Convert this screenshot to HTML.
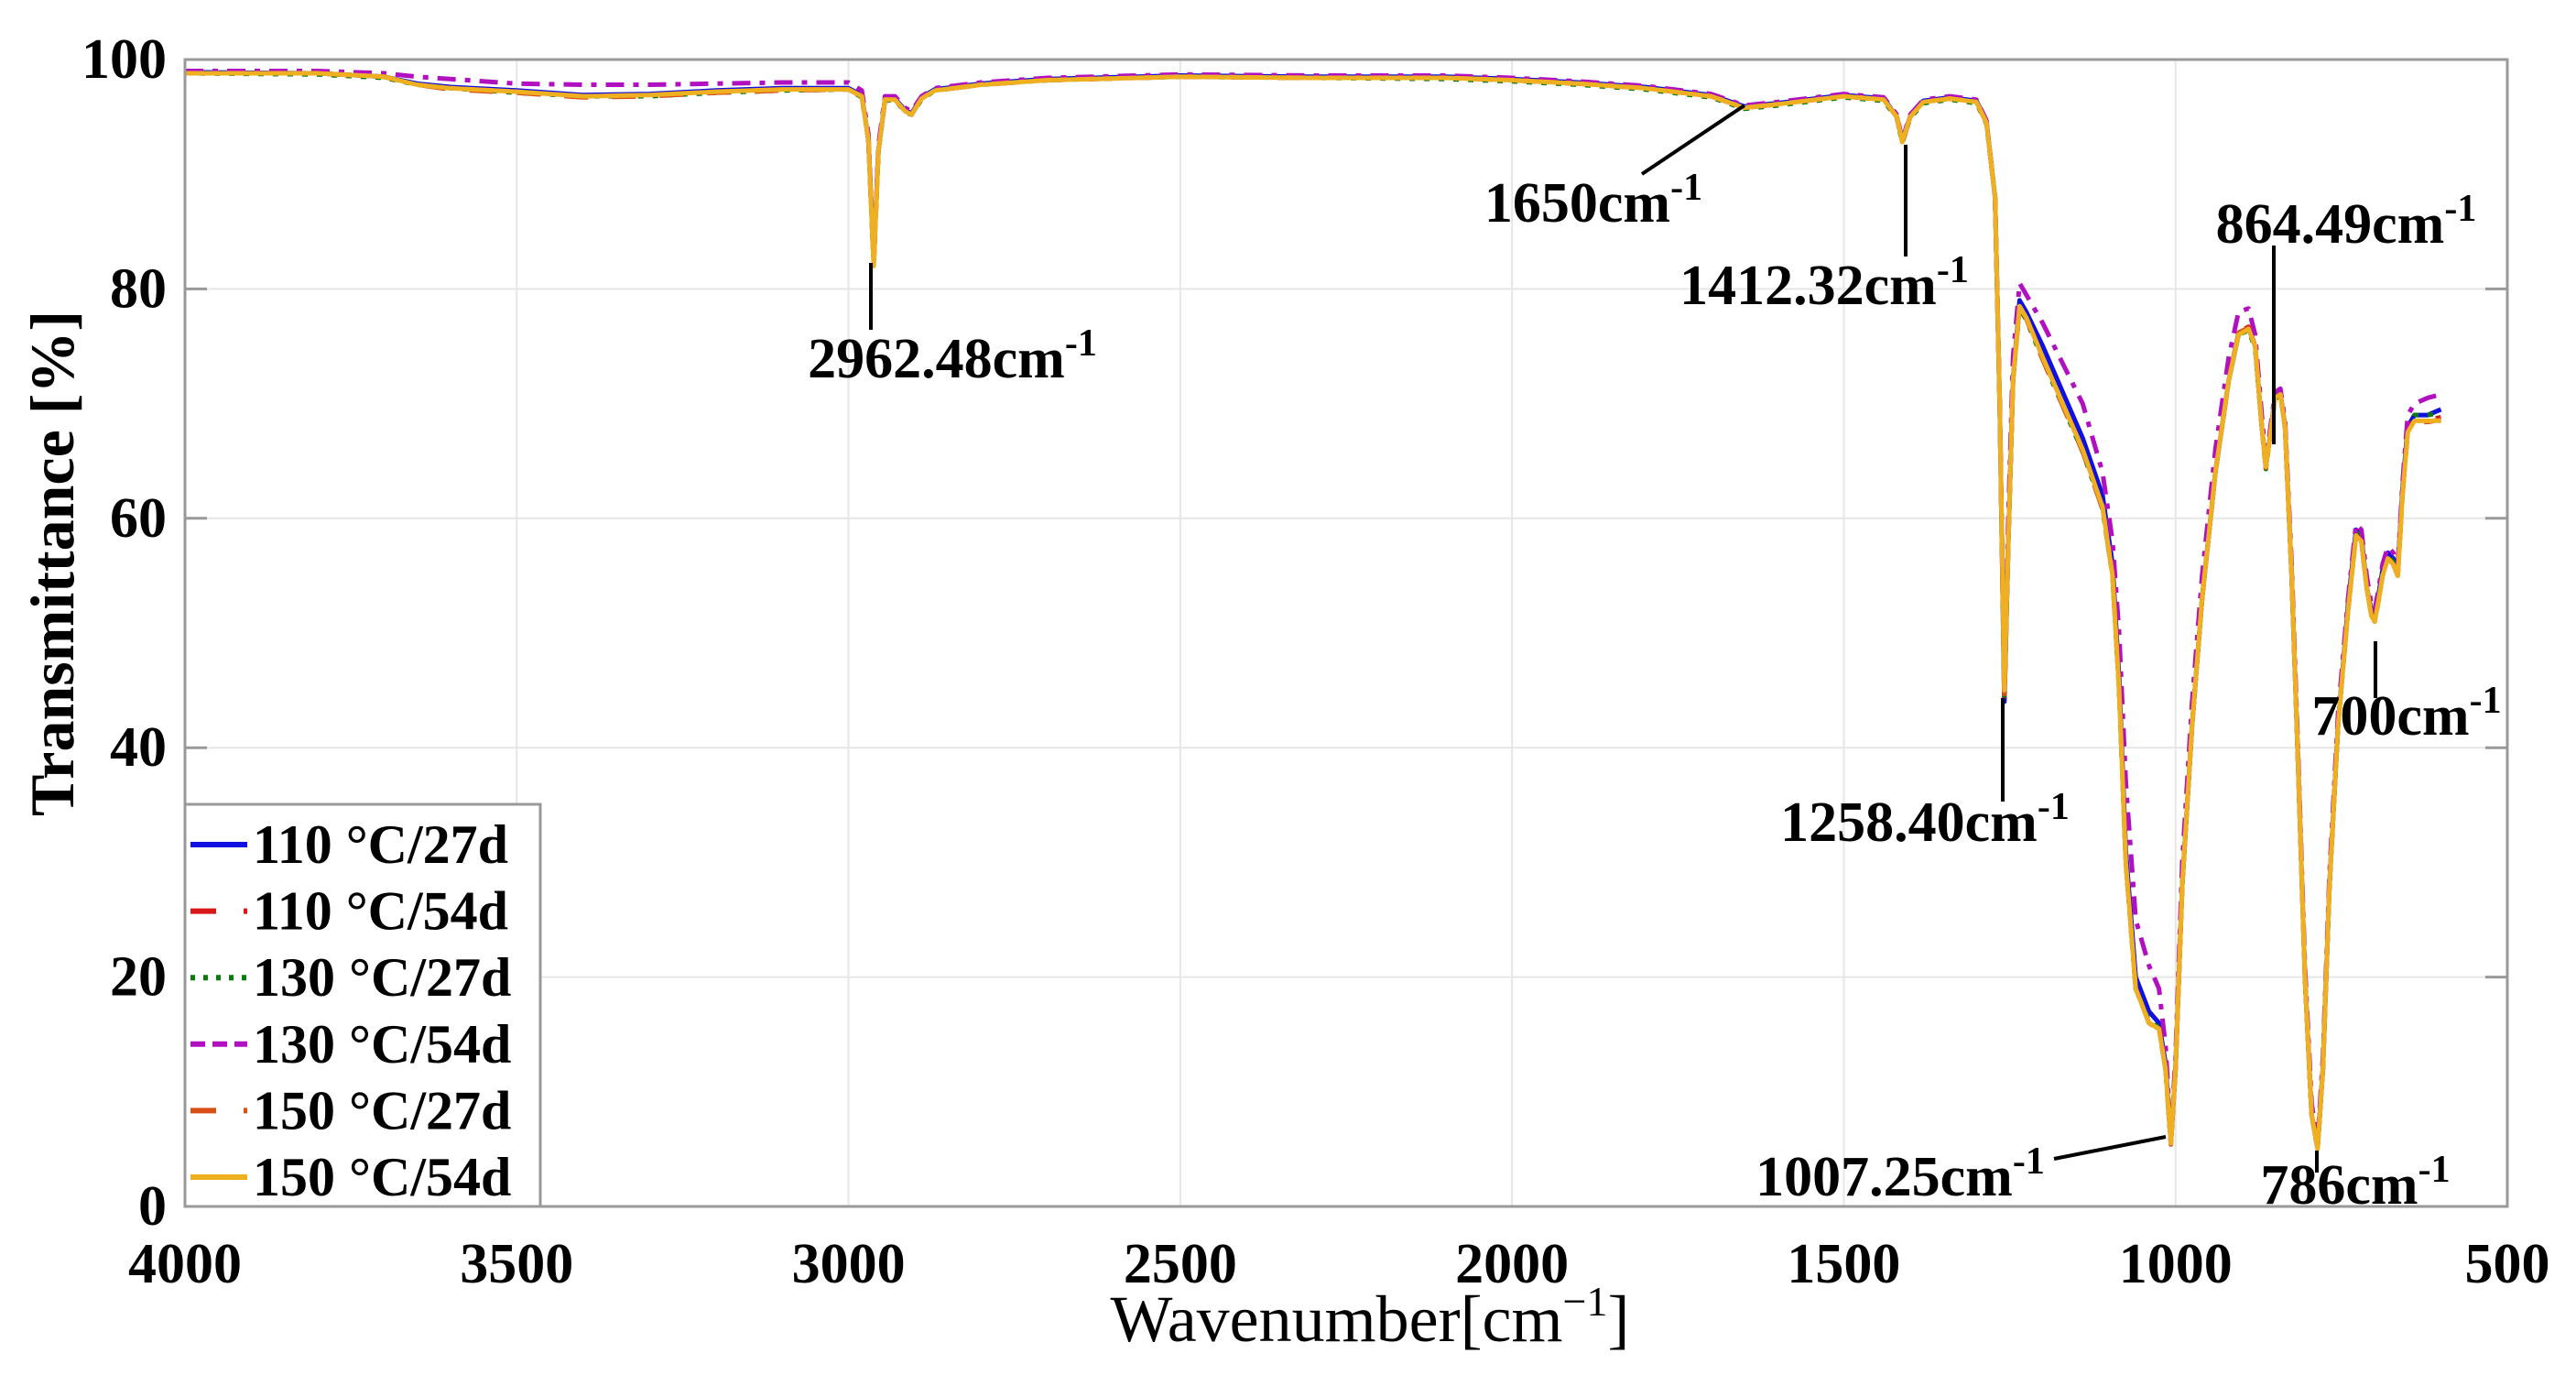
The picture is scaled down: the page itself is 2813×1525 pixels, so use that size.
<!DOCTYPE html>
<html><head><meta charset="utf-8"><style>
html,body{margin:0;padding:0;background:#fff}
svg{display:block}
text{font-family:"Liberation Serif","DejaVu Serif",serif}
</style></head><body>
<svg id="chart" width="2813" height="1525" viewBox="0 0 2813 1525" xmlns="http://www.w3.org/2000/svg">
<g id="grid"></g>
<g id="series"></g>
<rect x="202" y="65" width="2536" height="1252" fill="none" stroke="#999" stroke-width="3"/>
<g id="ticks"></g>
<g id="annots"></g>
<text transform="translate(80,615) rotate(-90)" text-anchor="middle" font-size="68" font-weight="bold">Transmittance [%]</text>
<text x="1496" y="1464" text-anchor="middle" font-size="72">Wavenumber[cm<tspan font-size="46" dy="-28">−1</tspan><tspan dy="28">]</tspan></text>
<g id="legend"></g>
</svg>
<script>
const wavenumbers=[4000,3800,3700,3650,3600,3500,3400,3300,3200,3100,3000,2980,2970,2962,2955,2945,2930,2915,2905,2890,2870,2800,2700,2500,2300,2100,2000,1900,1800,1700,1650,1600,1500,1440,1420,1412,1400,1380,1340,1300,1285,1272,1265,1258,1252,1245,1235,1225,1200,1170,1140,1110,1095,1085,1075,1060,1040,1025,1015,1007,1000,990,975,960,940,920,905,890,880,870,864,858,850,842,835,825,815,805,795,786,778,768,755,740,728,720,712,705,700,695,688,680,672,665,658,650,640,620,600];
const s110_27=[98.9,98.8,98.5,97.9,97.6,97.3,96.9,97.0,97.3,97.5,97.5,96.9,93,82.5,92,96.5,96.6,95.6,95.3,96.7,97.4,97.9,98.3,98.6,98.5,98.5,98.3,98.0,97.6,96.9,95.9,96.2,96.9,96.6,95,93,95,96.4,96.7,96.4,94.6,88,70,44,58,72,79,78,75,71,67,62,56,46,31,20,17,16,12.5,5.6,12,28,42,53,64,72,76,76.6,75,68,64.6,67,70.6,70.9,68,55,38,20,8,5.2,12,28,42,52.5,59,58.5,54,52,51.3,53,55.5,57,56.5,55.5,62.5,68,69,69,69.5];
const s110_54=[98.8,98.8,98.5,97.8,97.5,97.2,96.8,96.9,97.2,97.4,97.4,96.8,93,82,92,96.5,96.5,95.5,95.2,96.6,97.3,97.8,98.2,98.5,98.4,98.4,98.2,97.9,97.5,96.8,95.8,96.1,96.8,96.5,95,92.8,95,96.3,96.6,96.3,94.5,88,70,44.5,58,72,78.5,77.5,74,70,66,61,55,45,30,19,16,15.5,12,5.5,12,28,42,53,64,72,76.2,76.7,75,68,64.5,67,70.6,70.9,68,55,38,20,8,5,12,28,42,52,58.6,58,54,51.6,51,52.6,55,56.6,56,55,62,67.8,68.6,68.6,68.8];
const s130_27=[98.8,98.7,98.4,97.8,97.5,97.1,96.8,96.8,97.1,97.3,97.4,96.7,93,82.2,92,96.4,96.5,95.4,95.2,96.5,97.3,97.8,98.2,98.5,98.4,98.3,98.1,97.8,97.4,96.7,95.7,96.0,96.7,96.4,94.9,92.7,94.9,96.2,96.5,96.2,94.4,88,70,44,58,72,78.3,77.3,73.8,69.8,65.8,60.8,55,45,30,19,16.2,15.6,12,5.5,12,28,42,53,64,72,76,76.4,74.8,68,64.3,67,70.4,70.7,68,55,38,20,8,5,12,28,42,52,58.8,58.3,54,51.8,51.2,52.8,55.2,56.8,56.2,55.2,62.2,68,69,69,69.2];
const s130_54=[99.0,99.0,98.8,98.5,98.3,97.9,97.8,97.8,97.9,98,98,97.3,93.5,82.5,92.5,96.8,96.8,95.8,95.5,96.8,97.5,98,98.4,98.7,98.6,98.6,98.4,98.1,97.7,97.0,96,96.3,97,96.7,95.2,93,95.2,96.5,96.8,96.5,94.7,88,70,46,60,74,80.5,79.5,77,73.5,70,64,58,50,37,25,21,19,14,6,13,30,44,55,66,74,78,78.3,76,69,65,67.5,71,71.3,68.5,56,39,21,9,5.5,13,29,43,53,59.5,59,55,52.5,52,53.5,56,57.5,57,56,63,69,70,70.5,70.8];
const s150_27=[98.8,98.8,98.5,97.8,97.4,97.1,96.7,96.8,97.1,97.3,97.4,96.8,93,82,92,96.5,96.5,95.5,95.2,96.6,97.3,97.8,98.2,98.5,98.4,98.4,98.2,97.9,97.5,96.8,95.8,96.1,96.8,96.5,95,92.6,95,96.3,96.6,96.3,94.5,88,70,44,58,72,78.5,77.4,73.8,69.8,65.8,60.8,55,45,30,19,16,15.4,12,5.4,12,28,42,53,64,72,76.2,76.6,75,68,64.4,67,70.5,70.8,68,55,38,20,8,5,12,28,42,52,58.6,58,54,51.5,51,52.5,55,56.5,56,55,62,67.6,68.4,68.4,68.6];
const s150_54=[98.8,98.8,98.5,97.8,97.5,97.2,96.8,96.9,97.2,97.4,97.4,96.8,93,82,92,96.5,96.5,95.5,95.2,96.6,97.3,97.8,98.2,98.5,98.4,98.4,98.2,97.9,97.5,96.8,95.8,96.1,96.8,96.5,95,92.8,95,96.3,96.6,96.3,94.5,88,70,45,58,72,78.5,77.5,74,70,66,61,55,45,30,19,16,15.5,12,5.5,12,28,42,53,64,72,76,76.5,75,68,64.5,67,70.5,70.8,68,55,38,20,8,5,12,28,42,52,58.5,58,54,51.5,51,52.5,55,56.5,56,55,62,67.5,68.5,68.5,68.5];
const seriesNames=["110 °C/27d","110 °C/54d","130 °C/27d","130 °C/54d","150 °C/27d","150 °C/54d"];
const xTicks=[4000,3500,3000,2500,2000,1500,1000,500];
const yTicks=[0,20,40,60,80,100];

const L=202,R=2738,T=65,B=1317;
const xS=v=>L+(4000-v)/3500*(R-L);
const yS=v=>B-v/100*(B-T);
const NS="http://www.w3.org/2000/svg";
function mk(tag,parent,attrs){const e=document.createElementNS(NS,tag);for(const k in attrs)e.setAttribute(k,attrs[k]);parent.appendChild(e);return e;}

const grid=document.getElementById('grid'),ticks=document.getElementById('ticks');
xTicks.forEach(v=>{
  const g=mk('line',grid,{x1:xS(v),x2:xS(v),y1:T,y2:B,stroke:'#e6e6e6','stroke-width':2});
  
  
  const t=mk('text',ticks,{x:xS(v),y:1400,'text-anchor':'middle','font-size':62,'font-weight':'bold'});
  t.textContent=v;
  
  
});
yTicks.forEach(v=>{
  const g=mk('line',grid,{x1:L,x2:R,y1:yS(v),y2:yS(v),stroke:'#e6e6e6','stroke-width':2});
  
  
  const tk=mk('line',ticks,{x1:L,x2:L+24,y1:yS(v),y2:yS(v),stroke:'#999','stroke-width':3});
  
  
  const tk2=mk('line',ticks,{x1:R,x2:R-24,y1:yS(v),y2:yS(v),stroke:'#999','stroke-width':3});
  
  
  const t=mk('text',ticks,{x:182,y:yS(v)+20,'text-anchor':'end','font-size':62,'font-weight':'bold'});
  t.textContent=v;
  
  
});

const styles=[
 {c:'#1010e0',d:''},
 {c:'#d81818',d:'26 26'},
 {c:'#0a7a0a',d:'6 10'},
 {c:'#b010c0',d:'20 10 6 10'},
 {c:'#d85018',d:'26 26'},
 {c:'#eeb020',d:''}
];
const allData=[s110_27,s110_54,s130_27,s130_54,s150_27,s150_54];
const sg=document.getElementById('series');
allData.forEach((arr,i)=>{
  const d=arr.map((v,j)=>(j?'L':'M')+xS(wavenumbers[j]).toFixed(1)+' '+yS(v).toFixed(1)).join(' ');
  const p=mk('path',sg,{d:d,fill:'none',stroke:styles[i].c,'stroke-width':5,'stroke-linejoin':'round'});
  if(styles[i].d)p.setAttribute('stroke-dasharray',styles[i].d);
  
  
});

const an=document.getElementById('annots');
const annots=[
 {t:'2962.48',x:1040,y:412,l:[951,287,951,360]},
 {t:'1650',x:1740,y:242,l:[1793,190,1905,115]},
 {t:'1412.32',x:1992,y:332,l:[2081,158,2081,280]},
 {t:'1258.40',x:2102,y:918,l:[2187,762,2187,875]},
 {t:'1007.25',x:2075,y:1305,l:[2243,1265,2365,1241]},
 {t:'786',x:2572,y:1314,l:[2530,1256,2530,1280]},
 {t:'864.49',x:2562,y:265,l:[2483,268,2483,485]},
 {t:'700',x:2628,y:802,l:[2594,700,2594,762]}
];
annots.forEach(a=>{
  const ln=mk('line',an,{x1:a.l[0],y1:a.l[1],x2:a.l[2],y2:a.l[3],stroke:'#000','stroke-width':4});
  
  
  const t=mk('text',an,{x:a.x,y:a.y,'text-anchor':'middle','font-size':62,'font-weight':'bold'});
  
  
  t.innerHTML=a.t+'cm<tspan font-size="42" dy="-24">-1</tspan>';
});

const lg=document.getElementById('legend');
const box=mk('rect',lg,{x:202,y:878,width:388,height:439,fill:'#fff',stroke:'#999','stroke-width':3});


seriesNames.forEach((n,i)=>{
  const y=918+i*72.6;
  const ln=mk('line',lg,{x1:208,x2:270,y1:y+4,y2:y+4,stroke:styles[i].c,'stroke-width':6});
  if(styles[i].d)ln.setAttribute('stroke-dasharray',styles[i].d==='26 26'?'28 30':styles[i].d==='6 10'?'5 9':'16 8');
  
  
  const t=mk('text',lg,{x:276,y:y+24,'font-size':60,'font-weight':'bold'});
  t.textContent=n;
  
  
});
</script>
</body></html>
